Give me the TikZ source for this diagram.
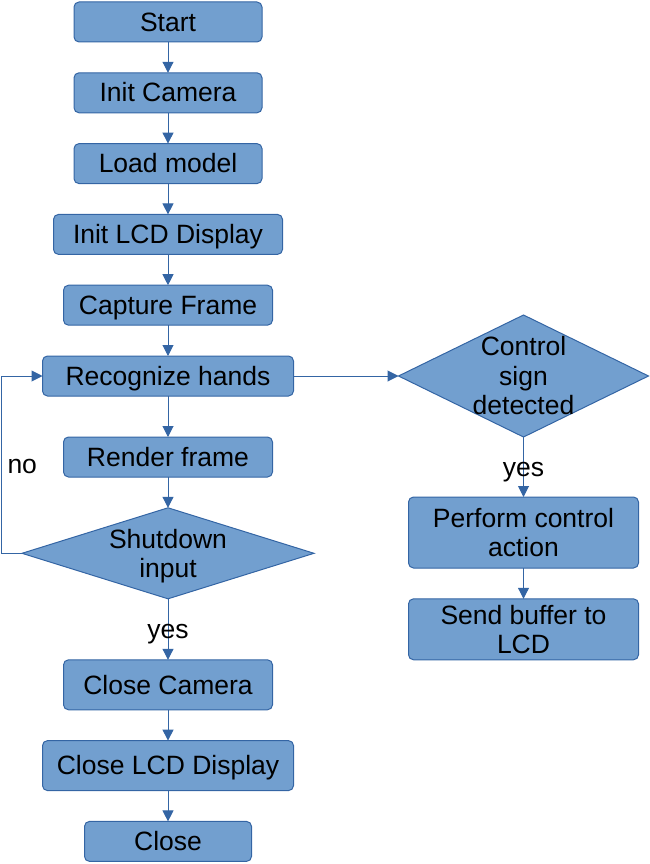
\documentclass[tikz,border=0pt]{standalone}
\usepackage{fontspec}
\setmainfont{Liberation Sans}
\usetikzlibrary{shapes.geometric, arrows.meta, positioning}
\definecolor{boxfill}{HTML}{729FCF}
\definecolor{boxline}{HTML}{3465A4}
\tikzset{
    >={Triangle[length=11pt,width=11pt]}, node distance=30.8pt and 105pt, % vertical gap between the boxes, horizontal gap to the right column
    procbox/.style={rectangle, rounded corners=5pt, draw=boxline, line width=1pt, fill=boxfill, minimum height=40pt, inner sep=0pt, outer sep=0pt, align=center},
    oneline/.style={text height=24pt, text depth=5.6pt}, % same line box for every single line text
    decision/.style={diamond, draw=boxline, line width=1pt, fill=boxfill, inner sep=0pt, outer sep=0pt}, % text goes in a node of its own on top
    dtext/.style={align=center, inner sep=0pt},
    link/.style={->, draw=boxline, line width=1pt},
    lbl/.style={inner sep=0pt, oneline}
}
\begin{document}
\begin{tikzpicture}[x=1pt, y=-1pt, font=\fontsize{26.5pt}{29.5pt}\selectfont]
                \useasboundingbox (0,0) rectangle (649,864);
                \node[procbox, oneline, minimum width=188pt] (start) at (168,22) {Start};
                \node[procbox, oneline, minimum width=188pt] (initcam) [below =of start] {Init Camera};
                \node[procbox, oneline, minimum width=188pt] (loadmodel) [below =of initcam] {Load model};
                \node[procbox, oneline, minimum width=229pt] (initlcd) [below =of loadmodel] {Init LCD Display};
                \node[procbox, oneline, minimum width=209pt] (capture) [below =of initlcd] {Capture Frame};
                \node[procbox, oneline, minimum width=251pt] (recog) [below =of capture] {Recognize hands};
                \node[procbox, oneline, minimum width=209pt] (render) [below =41pt of recog] {Render frame};
                \node[decision, minimum width=292pt, minimum height=91pt] (shutdown) [below =of render] {};
                \node[dtext] (shutdowntxt) at ([yshift=-3pt]shutdown) {Shutdown\\input};
                \node[procbox, oneline, minimum width=209pt, minimum height=50pt] (closecam) [below =61pt of shutdown] {Close Camera};
                \node[procbox, oneline, minimum width=251pt, minimum height=50pt] (closelcd) [below =of closecam] {Close LCD Display};
                \node[procbox, oneline, minimum width=167pt] (close) [below =of closelcd] {Close};
                % right column
                \node[decision, minimum width=250pt, minimum height=122pt] (ctrlsign) [right =of recog] {};
                \node[dtext] (ctrlsigntxt) at (ctrlsign) {Control\\sign\\detected};
                \node[procbox, minimum width=230pt, minimum height=71pt] (perform) [below =60pt of ctrlsign] {Perform control\\action};
                \node[procbox, minimum width=230pt, minimum height=61pt] (sendbuf) [below =of perform] {Send buffer to\\LCD};
                \path[link] (start) -- (initcam);
                \path[link] (initcam) -- (loadmodel);
                \path[link] (loadmodel) -- (initlcd);
                \path[link] (initlcd) -- (capture);
                \path[link] (capture) -- (recog);
                \path[link] (recog) -- (render);
                \path[link] (render) -- (shutdown);
                \path[link] (shutdown) -- node[lbl] (yesshut) {yes} (closecam);
                \path[link] (closecam) -- (closelcd);
                \path[link] (closelcd) -- (close);
                \path[link] (shutdown.west) -- ++(-21,0) |- node[lbl, pos=0.25, right=6pt] (noshut) {no} (recog.west); % back round to the loop start
                \path[link] (recog) -- (ctrlsign);
                \path[link] (ctrlsign) -- node[lbl] (yesctrl) {yes} (perform);
                \path[link] (perform) -- (sendbuf);
            \end{tikzpicture}
\end{document}
